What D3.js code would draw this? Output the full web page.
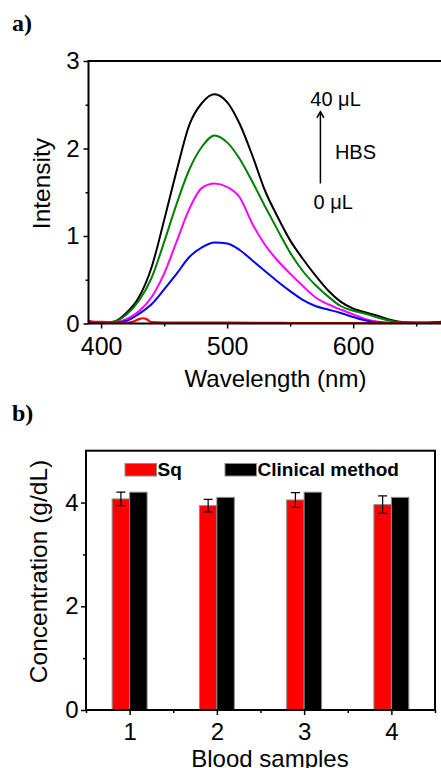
<!DOCTYPE html>
<html>
<head>
<meta charset="utf-8">
<script src="https://cdn.jsdelivr.net/npm/d3@7"></script>
<style>
  body { margin: 0; background: #fff; }
  svg { display: block; }
  text { font-family: "Liberation Sans", Arial, sans-serif; fill: #000; }
  .panel-tag { font-family: "Liberation Serif", "Times New Roman", serif; font-weight: bold; font-size: 24px; }
  .tick text { font-size: 24px; font-family: "Liberation Sans", Arial, sans-serif; }
  .tick line { stroke: #000; stroke-width: 1.5; }
</style>
</head>
<body>
<div id="chart"></div>
<script>
const WIDTH = 441;
const HEIGHT = 768;

// panel a: emission spectra with increasing HBS
const wavelengths = [390, 400, 410, 420, 430, 440, 450, 460, 470, 480, 490, 500, 510, 520, 530,
  540, 550, 560, 570, 580, 590, 600, 610, 620, 630, 640, 650, 660, 670, 680];
const hbs40 = [0.01, 0.01, 0.02, 0.12, 0.30, 0.64, 1.18, 1.75, 2.27, 2.52, 2.62, 2.53, 2.28, 1.92, 1.52,
  1.22, 0.95, 0.74, 0.55, 0.38, 0.25, 0.17, 0.125, 0.085, 0.04, 0.015, 0.01, 0.01, 0.02, 0.03];
const hbs30 = [0.01, 0.01, 0.02, 0.10, 0.26, 0.52, 0.93, 1.37, 1.76, 2.02, 2.15, 2.07, 1.88, 1.62, 1.34,
  1.07, 0.81, 0.60, 0.44, 0.31, 0.20, 0.145, 0.11, 0.065, 0.03, 0.012, 0.01, 0.01, 0.015, 0.02];
const hbs20 = [0.01, 0.01, 0.01, 0.05, 0.14, 0.30, 0.57, 0.94, 1.31, 1.55, 1.60, 1.56, 1.44, 1.14, 0.90,
  0.72, 0.57, 0.43, 0.30, 0.22, 0.16, 0.105, 0.05, 0.02, 0.01, 0.01, 0.01, 0.01, 0.01, 0.01];
const hbs10 = [0.01, 0.01, 0.01, 0.03, 0.11, 0.22, 0.39, 0.57, 0.76, 0.87, 0.925, 0.915, 0.84, 0.72, 0.60,
  0.48, 0.37, 0.27, 0.20, 0.16, 0.12, 0.075, 0.035, 0.012, 0.01, 0.01, 0.01, 0.01, 0.015, 0.02];
const blankWavelengths = [390, 395, 400, 410, 420, 425, 430, 433, 436, 440, 450, 500, 550, 600, 650, 680];
const hbs0 = [0.03, 0.02, 0.02, 0.01, 0.01, 0.02, 0.05, 0.06, 0.05, 0.015, 0.01, 0.01, 0.006, 0.006, 0.006, 0.006];

const spectra = [
  { name: '40', xs: wavelengths, ys: hbs40, color: '#000000' },
  { name: '30', xs: wavelengths, ys: hbs30, color: '#007f00' },
  { name: '20', xs: wavelengths, ys: hbs20, color: '#ff00ff' },
  { name: '10', xs: wavelengths, ys: hbs10, color: '#0000ff' },
  { name: '0', xs: blankWavelengths, ys: hbs0, color: '#ff0000' },
];
const wlTicks = [400, 500, 600];
const wlMinorTicks = [450, 550, 650];
const intensityTicks = [0, 1, 2, 3];
const intensityMinorTicks = [0.5, 1.5, 2.5];

// panel b: blood samples
const samples = [1, 2, 3, 4];
const sqValues = [4.07, 3.94, 4.05, 3.96];
const sqErrors = [0.13, 0.12, 0.14, 0.17];
const clinicalValues = [4.2, 4.1, 4.2, 4.1];
const concTicks = [0, 2, 4];
const concMinorTicks = [1, 3];
const sampleMinorTicks = [0.5, 1.5, 2.5, 3.5, 4.5];
const legendEntries = [
  { label: 'Sq', color: '#ff0000' },
  { label: 'Clinical method', color: '#000000' },
];

let svg;

function drawAxisPair(g, scale, orient, major, minor, translate) {
  let axisFn = orient === 'left' ? d3.axisLeft : d3.axisBottom;

  let majorG = g.append('g')
    .attr('transform', translate)
    .call(axisFn(scale).tickValues(major).tickSize(5).tickPadding(orient === 'left' ? 4 : 6).tickFormat(d3.format('d')));
  majorG.select('.domain').remove();

  let minorG = g.append('g')
    .attr('transform', translate)
    .call(axisFn(scale).tickValues(minor).tickSize(3).tickFormat(''));
  minorG.select('.domain').remove();

  return majorG;
}

function buildSpectra() {
  let x = d3.scaleLinear().domain([390, 680]).range([88.5, 454]);
  let y = d3.scaleLinear().domain([0, 3]).range([323.5, 61]);
  let g = svg.append('g').attr('class', 'panelA');

  g.append('text').attr('class', 'panel-tag').attr('x', 12).attr('y', 31).text('a)');

  g.append('clipPath').attr('id', 'clipA')
    .append('rect')
    .attr('x', x.range()[0]).attr('y', y.range()[1] - 2)
    .attr('width', x.range()[1] - x.range()[0]).attr('height', y.range()[0] - y.range()[1] + 4);

  let line = d3.line()
    .x((d) => x(d[0]))
    .y((d) => y(d[1]))
    .curve(d3.curveMonotoneX);

  let lineGroup = g.append('g').attr('clip-path', 'url(#clipA)');
  spectra.forEach((s) => {
    lineGroup.append('path')
      .datum(s.xs.map((w, i) => [w, s.ys[i]]))
      .attr('d', line)
      .attr('fill', 'none')
      .attr('stroke', s.color)
      .attr('stroke-width', s.name === '0' ? 2.2 : 2)
      .attr('stroke-linejoin', 'round');
  });

  // frame
  g.append('path')
    .attr('d', `M${x.range()[1]},${y(3)} H${x.range()[0]} V${y(0)} H${x.range()[1]}`)
    .attr('fill', 'none')
    .attr('stroke', '#000')
    .attr('stroke-width', 2);

  let yAx = drawAxisPair(g, y, 'left', intensityTicks, intensityMinorTicks, `translate(${x.range()[0]},0)`);
  yAx.selectAll('text').style('font-size', '24px');
  let xAx = drawAxisPair(g, x, 'bottom', wlTicks, wlMinorTicks, `translate(0,${y(0)})`);
  xAx.selectAll('text').attr('dy', null).attr('y', 31.5).style('font-size', '25px');

  g.append('text')
    .attr('x', 275.5).attr('y', 386.5)
    .attr('text-anchor', 'middle')
    .style('font-size', '24px')
    .text('Wavelength (nm)');

  g.append('text')
    .attr('transform', 'translate(50,183.5) rotate(-90)')
    .attr('text-anchor', 'middle')
    .style('font-size', '24.5px')
    .text('Intensity');

  // annotation: arrow from 0 µL to 40 µL
  let ax = x(574);
  g.append('line')
    .attr('x1', ax).attr('x2', ax)
    .attr('y1', y(1.6)).attr('y2', y(2.42))
    .attr('stroke', '#000').attr('stroke-width', 1.5);
  g.append('path')
    .attr('d', `M${ax - 3.5},${y(2.42) + 6} L${ax},${y(2.42)} L${ax + 3.5},${y(2.42) + 6}`)
    .attr('fill', 'none').attr('stroke', '#000').attr('stroke-width', 1.5);

  g.append('text').attr('x', x(566)).attr('y', y(2.486)).style('font-size', '20px').text('40 μL');
  g.append('text').attr('x', x(585.5)).attr('y', y(1.88)).style('font-size', '20px').text('HBS');
  g.append('text').attr('x', x(568.5)).attr('y', y(1.305)).style('font-size', '20px').text('0 μL');
}

function buildBars() {
  let x = d3.scaleLinear().domain([0.5, 4.5]).range([86, 435]);
  let y = d3.scaleLinear().domain([0, 5]).range([710, 450.7]);
  let barW = x(0.2) - x(0);
  let g = svg.append('g').attr('class', 'panelB');

  g.append('text').attr('class', 'panel-tag').attr('x', 12).attr('y', 421).text('b)');

  g.selectAll('.sq')
    .data(samples)
    .enter()
    .append('rect')
    .attr('class', 'sq')
    .attr('x', (d) => x(d) - barW)
    .attr('y', (d, i) => y(sqValues[i]))
    .attr('width', barW)
    .attr('height', (d, i) => y(0) - y(sqValues[i]))
    .attr('fill', '#ff0000')
    .attr('stroke', '#8c8c8c')
    .attr('stroke-width', 1);

  g.selectAll('.clin')
    .data(samples)
    .enter()
    .append('rect')
    .attr('class', 'clin')
    .attr('x', (d) => x(d))
    .attr('y', (d, i) => y(clinicalValues[i]))
    .attr('width', barW)
    .attr('height', (d, i) => y(0) - y(clinicalValues[i]))
    .attr('fill', '#000000')
    .attr('stroke', '#8c8c8c')
    .attr('stroke-width', 1);

  // error bars on the Sq bars
  samples.forEach((d, i) => {
    let cx = x(d) - barW / 2;
    let top = y(sqValues[i] + sqErrors[i]);
    let bot = y(sqValues[i] - sqErrors[i]);
    g.append('path')
      .attr('d', `M${cx},${top} V${bot} M${cx - 4.5},${top} H${cx + 4.5} M${cx - 4.5},${bot} H${cx + 4.5}`)
      .attr('fill', 'none')
      .attr('stroke', '#000')
      .attr('stroke-width', 1.2);
  });

  g.append('rect')
    .attr('x', x.range()[0]).attr('y', y.range()[1])
    .attr('width', x.range()[1] - x.range()[0])
    .attr('height', y.range()[0] - y.range()[1])
    .attr('fill', 'none')
    .attr('stroke', '#000')
    .attr('stroke-width', 2);

  let yAx = drawAxisPair(g, y, 'left', concTicks, concMinorTicks, `translate(${x.range()[0]},0)`);
  yAx.selectAll('text').attr('x', -7.5);
  let xAx = drawAxisPair(g, x, 'bottom', samples, sampleMinorTicks, `translate(0,${y(0)})`);
  xAx.selectAll('text').attr('dy', null).attr('y', 29.5);

  // legend
  let legendX = [125, 225];
  legendEntries.forEach((entry, i) => {
    g.append('rect')
      .attr('x', legendX[i]).attr('y', 463.5)
      .attr('width', 31.5).attr('height', 12.5)
      .attr('fill', entry.color)
      .attr('stroke', '#8c8c8c').attr('stroke-width', 1);
    g.append('text')
      .attr('x', legendX[i] + 32.5).attr('y', 475.5)
      .style('font-size', '19px')
      .style('font-weight', 'bold')
      .text(entry.label);
  });

  g.append('text')
    .attr('x', 270).attr('y', 767)
    .attr('text-anchor', 'middle')
    .style('font-size', '24px')
    .text('Blood samples');

  g.append('text')
    .attr('transform', 'translate(47,571.5) rotate(-90)')
    .attr('text-anchor', 'middle')
    .style('font-size', '24.5px')
    .text('Concentration (g/dL)');
}

function buildChart(selector) {
  svg = d3.select(selector).append('svg')
    .attr('width', WIDTH)
    .attr('height', HEIGHT);

  buildSpectra();
  buildBars();
}

buildChart('#chart');
</script>
</body>
</html>
